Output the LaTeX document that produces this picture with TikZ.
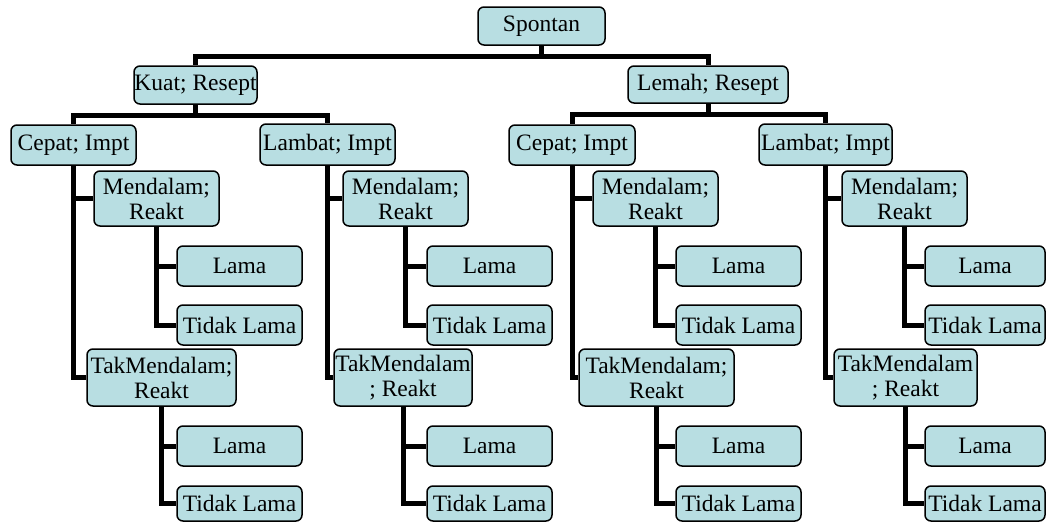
\documentclass[tikz,border=0pt]{standalone}
\usepackage{fontspec}
\setmainfont{Liberation Serif}
\usetikzlibrary{backgrounds}
\definecolor{boxfill}{RGB}{184,222,226}
\tikzset{
  box/.style={draw=black, line width=1.5pt, fill=boxfill, rounded corners=6pt,
    inner sep=0pt, align=center, font=\fontsize{23.5}{25}\selectfont},
  conn/.style={draw=black, line width=5pt}
}
\newcommand\bx[6]{\node[box, minimum width={(#4-#2)*1pt}, minimum height={(#5-#3)*1pt}] (#1) at ({(#2+#4)/2},{(#3+#5)/2}) {#6};}
\begin{document}
\begin{tikzpicture}[x=1pt,y=-1pt]
\useasboundingbox (0,0) rectangle (1046,522);
% top levels
\bx{sp}{478}{7}{605}{45}{Spontan}
\bx{kuat}{134}{66}{257}{104}{Kuat; Resept}
\bx{lemah}{628}{66}{788}{103}{Lemah; Resept}
% group a
\bx{ha}{11}{125}{136}{165}{Cepat; Impt}
\bx{ma}{94}{171}{219}{226}{Mendalam;\\Reakt}
\bx{la}{177}{246}{302}{286}{Lama}
\bx{ua}{177}{305}{302}{345}{Tidak Lama}
\bx{ta}{87}{349}{236}{406}{TakMendalam;\\Reakt}
\bx{pa}{177}{426}{302}{466}{Lama}
\bx{qa}{177}{486}{302}{521}{Tidak Lama}
% group b
\bx{hb}{260}{124}{395}{165}{Lambat; Impt}
\bx{mb}{343}{171}{468}{226}{Mendalam;\\Reakt}
\bx{lb}{427}{246}{552}{286}{Lama}
\bx{ub}{427}{305}{552}{345}{Tidak Lama}
\bx{tb}{334}{349}{472}{406}{TakMendalam\\; Reakt}
\bx{pb}{427}{426}{552}{466}{Lama}
\bx{qb}{427}{486}{552}{521}{Tidak Lama}
% group c
\bx{hc}{509}{125}{635}{165}{Cepat; Impt}
\bx{mc}{593}{171}{718}{226}{Mendalam;\\Reakt}
\bx{lc}{676}{246}{801}{286}{Lama}
\bx{uc}{676}{305}{801}{345}{Tidak Lama}
\bx{tc}{579}{349}{734}{406}{TakMendalam;\\Reakt}
\bx{pc}{676}{426}{801}{466}{Lama}
\bx{qc}{676}{486}{801}{521}{Tidak Lama}
% group d
\bx{hd}{759}{124}{892}{165}{Lambat; Impt}
\bx{md}{842}{171}{967}{226}{Mendalam;\\Reakt}
\bx{ld}{925}{246}{1045}{286}{Lama}
\bx{ud}{925}{305}{1045}{345}{Tidak Lama}
\bx{td}{834}{349}{977}{406}{TakMendalam\\; Reakt}
\bx{pd}{925}{426}{1045}{466}{Lama}
\bx{qd}{925}{486}{1045}{521}{Tidak Lama}
\begin{scope}[on background layer]
  \draw[conn] (sp.south) -- ++(0,11) -| (kuat.north);
  \draw[conn] (sp.south) -- ++(0,11) -| (lemah.north);
  \draw[conn] (kuat.south) -- ++(0,11) -| (ha.north);
  \draw[conn] (kuat.south) -- ++(0,11) -| (hb.north);
  \draw[conn] (lemah.south) -- ++(0,11) -| (hc.north);
  \draw[conn] (lemah.south) -- ++(0,11) -| (hd.north);
  \foreach \g in {a,b,c,d}{
    \draw[conn] (h\g.south) |- (t\g.west);
    \draw[conn] (h\g.south |- m\g.west) -- (m\g.west);
    \draw[conn] (m\g.south) |- (u\g.west);
    \draw[conn] (m\g.south |- l\g.west) -- (l\g.west);
    \draw[conn] (t\g.south) |- (q\g.west);
    \draw[conn] (t\g.south |- p\g.west) -- (p\g.west);
  }
\end{scope}
\end{tikzpicture}
\end{document}
